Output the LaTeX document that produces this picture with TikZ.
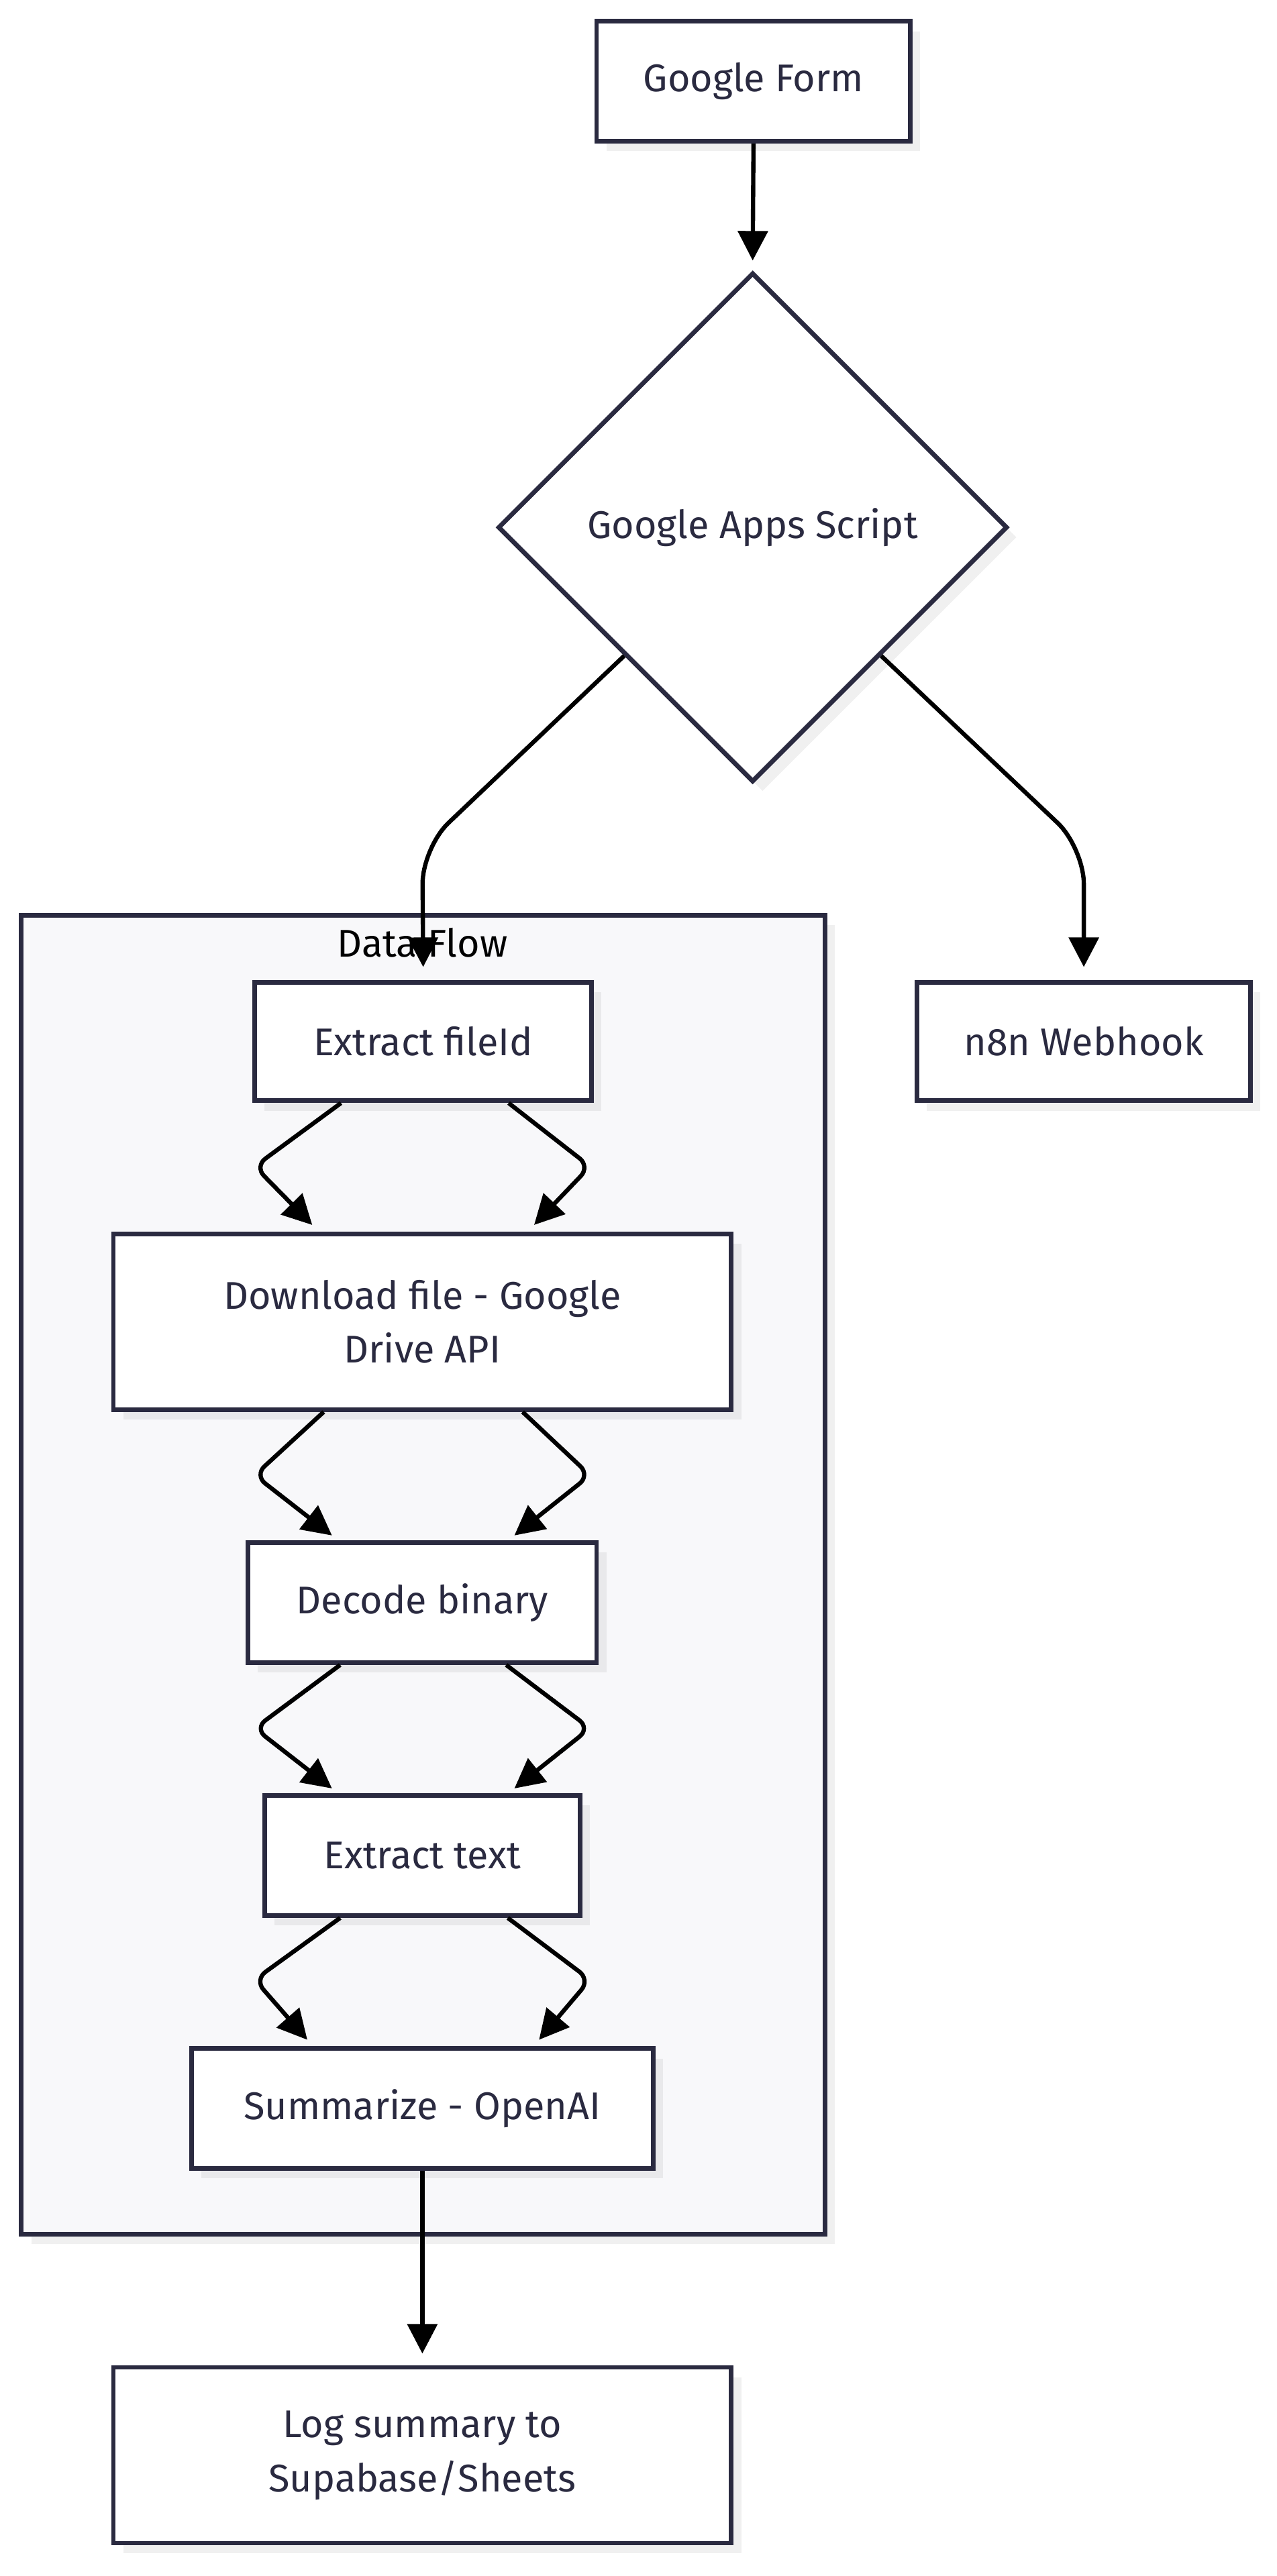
\documentclass[tikz,border=0pt]{standalone}
\usepackage{fontspec}
\setmainfont{Fira Sans}
\usetikzlibrary{arrows.meta,shapes.geometric,shadows}
\definecolor{ink}{HTML}{2A2A40}
\definecolor{panel}{HTML}{F8F8FA}
\begin{document}
\begin{tikzpicture}[x=1pt,y=-1pt,
  font=\fontsize{23.5}{33}\selectfont,
  shade/.style={drop shadow={shadow xshift=6pt,shadow yshift=-6pt,fill=black,opacity=0.06}},
  box/.style={draw=ink,line width=2.8pt,fill=white,text=ink,align=center,inner sep=0pt,shade},
  cluster/.style={draw=ink,line width=2.8pt,fill=panel,inner sep=0pt,shade},
  flow/.style={draw=black,line width=2.6pt,-{Triangle[length=18pt,width=18pt]},rounded corners=8pt}]
\useasboundingbox (0,0) rectangle (777,1568);
\node[cluster,minimum width=489pt,minimum height=803pt] (dataflow) at (257.5,958.5) {};
\node[text=black] (dflabel) at (257,574) {Data Flow};
\node[box,minimum width=191pt,minimum height=73pt] (form) at (458.5,49.5) {Google Form};
\node[box,shape=diamond,aspect=1,minimum width=310pt,minimum height=310pt] (gas) at (458,321) {Google Apps Script};
\node[box,minimum width=205pt,minimum height=72pt] (fileid) at (257.5,634) {Extract fileId};
\node[box,minimum width=203pt,minimum height=72pt] (webhook) at (659.5,634) {n8n Webhook};
\node[box,minimum width=376pt,minimum height=107pt] (download) at (257,804.5) {Download file - Google\\Drive API};
\node[box,minimum width=212pt,minimum height=73pt] (decode) at (257,975.5) {Decode binary};
\node[box,minimum width=192pt,minimum height=73pt] (text) at (257,1129.5) {Extract text};
\node[box,minimum width=281pt,minimum height=73pt] (summary) at (257,1283.5) {Summarize - OpenAI};
\node[box,minimum width=376pt,minimum height=107pt] (log) at (257,1494.5) {Log summary to\\Supabase/Sheets};
\draw[flow] (form.south) -- ([yshift=6pt]gas.north);
\draw[flow,rounded corners=22pt] (gas.south west) -- (257,516) -- ([yshift=8pt]fileid.north);
\draw[flow,rounded corners=22pt] (gas.south east) -- (659.5,516) -- ([yshift=8pt]webhook.north);
\draw[flow] ([xshift=-50pt]fileid.south) -- (155,710) -- ([xshift=-67pt,yshift=4pt]download.north);
\draw[flow] ([xshift=52pt]fileid.south) -- (359,710) -- ([xshift=68pt,yshift=4pt]download.north);
\draw[flow] ([xshift=-60pt]download.south) -- (155,898) -- ([xshift=-55pt,yshift=3pt]decode.north);
\draw[flow] ([xshift=61pt]download.south) -- (359,898) -- ([xshift=56pt,yshift=3pt]decode.north);
\draw[flow] ([xshift=-50pt]decode.south) -- (155,1052) -- ([xshift=-55pt,yshift=3pt]text.north);
\draw[flow] ([xshift=51pt]decode.south) -- (359,1052) -- ([xshift=56pt,yshift=3pt]text.north);
\draw[flow] ([xshift=-50pt]text.south) -- (155,1205) -- ([xshift=-70pt,yshift=4pt]summary.north);
\draw[flow] ([xshift=52pt]text.south) -- (359,1205) -- ([xshift=71pt,yshift=4pt]summary.north);
\draw[flow] (summary.south) -- ([yshift=7pt]log.north);
\end{tikzpicture}
\end{document}
